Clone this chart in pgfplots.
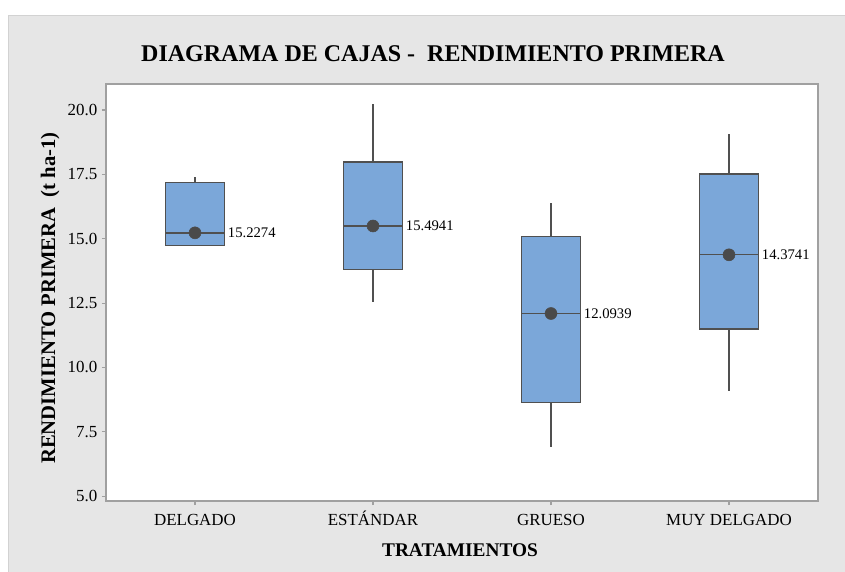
\documentclass[border=0pt]{standalone}
\usepackage{pgfplots}
\pgfplotsset{compat=1.18}
\usepackage{fontspec}
\setmainfont{Liberation Serif}
\definecolor{bg}{HTML}{E6E6E6}
\definecolor{bgline}{HTML}{D2D2D2}
\definecolor{boxfill}{RGB}{123,167,217}
\definecolor{boxline}{HTML}{505050}
\definecolor{axisgray}{HTML}{A0A0A0}
\definecolor{dotc}{HTML}{4A4A4A}
\begin{document}
\begin{tikzpicture}[x=1pt,y=1pt]
\useasboundingbox (0,0) rectangle (633.75,428.25);
\fill[white] (0,0) rectangle (633.75,428.25);
\filldraw[fill=bg, draw=bgline, line width=0.6pt] (6,-1) rectangle (634.5,417);
\begin{axis}[
  at={(79.5pt,52.5pt)}, anchor=south west,
  scale only axis, width=534pt, height=312.75pt,
  xmin=0.5, xmax=4.5, ymin=4.81, ymax=21.01,
  axis background/.style={fill=white},
  axis line style={axisgray, line width=0.8pt},
  xtick={1,2,3,4},
  xticklabels={DELGADO, ESTÁNDAR, GRUESO, MUY DELGADO},
  ytick={5,7.5,10,12.5,15,17.5,20},
  yticklabel style={/pgf/number format/fixed, /pgf/number format/fixed zerofill, /pgf/number format/precision=1, xshift=0pt},
  /pgf/number format/assume math mode=true,
  tick style={axisgray, line width=0.8pt},
  tick align=outside, major tick length=3pt,
  xtick pos=bottom, ytick pos=left,
  ticklabel style={font=\fontsize{12.7}{14}\selectfont, text=black},
  xticklabel style={text height=11pt, text depth=3pt, yshift=-1pt},
  clip=false,
]
% whiskers
\addplot[draw=boxline, line width=0.9pt] coordinates {(1,17.18) (1,17.41)};
\addplot[draw=boxline, line width=0.9pt] coordinates {(2,12.55) (2,13.81)};
\addplot[draw=boxline, line width=0.9pt] coordinates {(2,17.99) (2,20.22)};
\addplot[draw=boxline, line width=0.9pt] coordinates {(3,6.91) (3,8.64)};
\addplot[draw=boxline, line width=0.9pt] coordinates {(3,15.08) (3,16.37)};
\addplot[draw=boxline, line width=0.9pt] coordinates {(4,9.09) (4,11.50)};
\addplot[draw=boxline, line width=0.9pt] coordinates {(4,17.51) (4,19.07)};
% boxes
\addplot[fill=boxfill, draw=boxline, line width=1.2pt] coordinates {(0.835,14.73) (1.165,14.73) (1.165,17.18) (0.835,17.18)} -- cycle;
\addplot[fill=boxfill, draw=boxline, line width=1.2pt] coordinates {(1.835,13.81) (2.165,13.81) (2.165,17.99) (1.835,17.99)} -- cycle;
\addplot[fill=boxfill, draw=boxline, line width=1.2pt] coordinates {(2.835,8.64) (3.165,8.64) (3.165,15.08) (2.835,15.08)} -- cycle;
\addplot[fill=boxfill, draw=boxline, line width=1.2pt] coordinates {(3.835,11.50) (4.165,11.50) (4.165,17.51) (3.835,17.51)} -- cycle;
% medians
\addplot[draw=boxline, line width=1pt] coordinates {(0.835,15.2274) (1.165,15.2274)};
\addplot[draw=boxline, line width=1pt] coordinates {(1.835,15.4941) (2.165,15.4941)};
\addplot[draw=boxline, line width=1pt] coordinates {(2.835,12.0939) (3.165,12.0939)};
\addplot[draw=boxline, line width=1pt] coordinates {(3.835,14.3741) (4.165,14.3741)};
% dots with labels
\addplot[only marks, mark=*, mark size=4.5pt, color=dotc,
  nodes near coords, point meta=explicit symbolic,
  nodes near coords style={anchor=west, inner sep=0pt, xshift=24.5pt, text=black, font=\fontsize{11}{13}\selectfont}]
  coordinates {(1,15.2274)[15.2274] (2,15.4941)[15.4941] (3,12.0939)[12.0939] (4,14.3741)[14.3741]};
\end{axis}
\node[anchor=base, font=\bfseries\fontsize{18}{21}\selectfont] at (324.75,381.75) {DIAGRAMA DE CAJAS -~~RENDIMIENTO PRIMERA};
\node[anchor=base, font=\bfseries\fontsize{14.5}{17}\selectfont] at (345,11.25) {TRATAMIENTOS};
\node[anchor=base, rotate=90, font=\bfseries\fontsize{15.5}{18}\selectfont] at (41.25,204.75) {RENDIMIENTO PRIMERA~~(t ha-1)};
\end{tikzpicture}
\end{document}
